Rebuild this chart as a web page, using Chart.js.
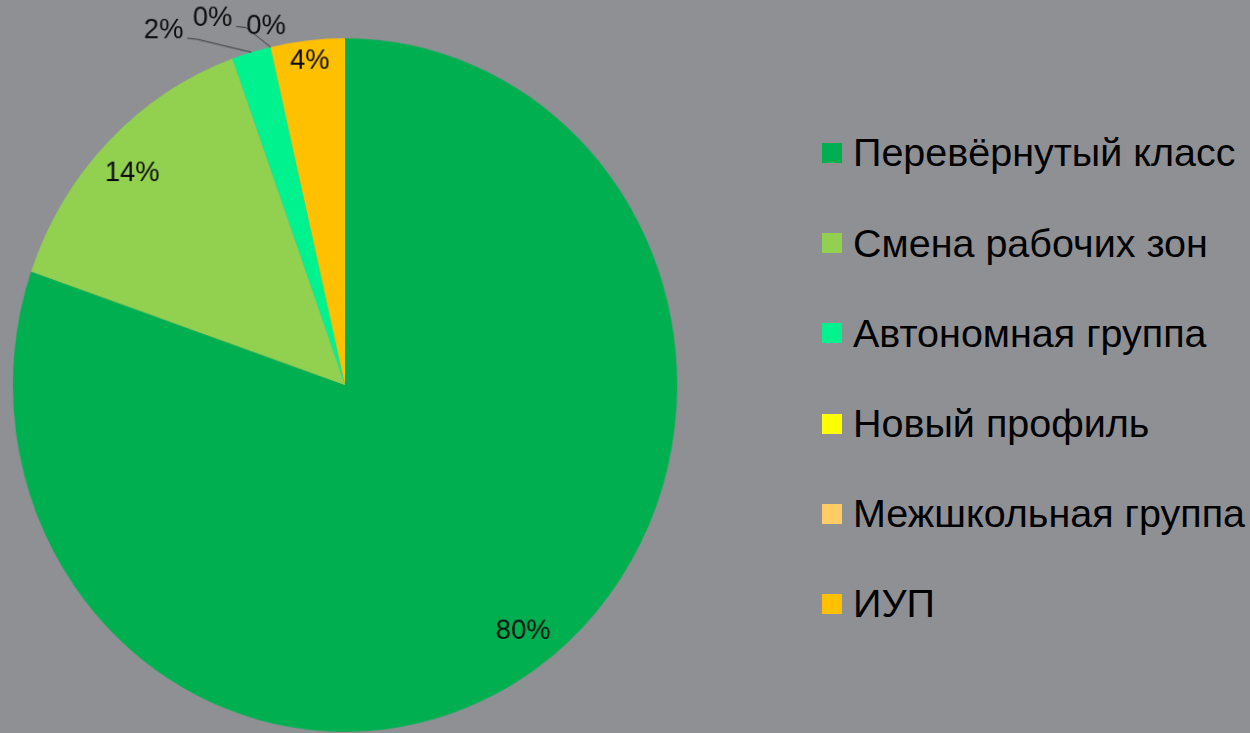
<!DOCTYPE html>
<html lang="ru">
<head>
<meta charset="utf-8">
<title>Формы организации обучения</title>
<script src="https://cdn.jsdelivr.net/npm/chart.js@4/dist/chart.umd.min.js"></script>
<style>
    html, body {
        margin: 0;
        padding: 0;
        background: #8f9094;
        width: 1250px;
        height: 733px;
        overflow: hidden;
        font-family: "Liberation Sans", Arial, sans-serif;
    }
    #pieWrap {
        position: absolute;
        left: 0;
        top: 0;
        width: 690px;
        height: 733px;
        /* the reference pie is a touch taller than it is wide */
        transform-origin: 345px 385px;
        transform: scale(0.977, 1.02);
    }
    #legend {
        position: absolute;
        left: 822px;
        top: 108px;
        margin: 0;
        padding: 0;
        list-style: none;
    }
    #legend li {
        height: 90.2px;
        display: flex;
        align-items: center;
        font-size: 39.5px;
        line-height: 1;
        color: #000;
        white-space: nowrap;
    }
    #legend .box {
        display: inline-block;
        width: 20px;
        height: 20px;
        margin-right: 11px;
        flex: none;
    }
</style>
</head>
<body>
<div id="pieWrap"><canvas id="formsChart"></canvas></div>
<ul id="legend"></ul>

<script>
// Data (shares, percent)
const categories = ['Перевёрнутый класс', 'Смена рабочих зон', 'Автономная группа', 'Новый профиль', 'Межшкольная группа', 'ИУП'];
const shares = [80.3, 14.2, 1.9, 0, 0, 3.6];
const sliceColors = ['#00b050', '#92d050', '#00f28f', '#ffff00', '#ffcc66', '#ffc000'];

// Label placement (radius factor, angle nudge in degrees, leader line)
const labelRadius = [0.89, 0.885, 1.16, 1.13, 1.06, 0.94];
const labelNudge = [-1.6, -1.0, -11.7, -7.7, 0, 0];
const labelLeader = [false, false, true, true, false, false];

// Percent labels drawn around / inside the slices
const percentLabels = {
    id: 'percentLabels',
    afterDatasetsDraw(chart) {
        const ctx = chart.ctx;
        const meta = chart.getDatasetMeta(0);
        const data = chart.data.datasets[0].data;
        const total = data.reduce((a, b) => a + b, 0);
        ctx.save();
        ctx.font = '28px "Liberation Sans", Arial, sans-serif';
        ctx.textAlign = 'center';
        ctx.textBaseline = 'middle';
        meta.data.forEach((arc, i) => {
            const p = arc.getProps(['x', 'y', 'startAngle', 'endAngle', 'outerRadius'], true);
            const mid = (p.startAngle + p.endAngle) / 2;
            const ang = mid + labelNudge[i] * Math.PI / 180;
            const lx = p.x + Math.cos(ang) * p.outerRadius * labelRadius[i];
            const ly = p.y + Math.sin(ang) * p.outerRadius * labelRadius[i];
            const text = Math.round(data[i] / total * 100) + '%';

            if (labelLeader[i]) {
                const w = ctx.measureText(text).width;
                const ex = p.x + Math.cos(mid) * p.outerRadius;
                const ey = p.y + Math.sin(mid) * p.outerRadius;
                ctx.strokeStyle = '#3c3c3c';
                ctx.lineWidth = 1;
                ctx.beginPath();
                ctx.moveTo(lx + w / 2 + 4, ly + 8);
                ctx.lineTo(lx + w / 2 + 14, ly + 9);
                ctx.lineTo(ex, ey);
                ctx.stroke();
            }
            ctx.fillStyle = '#0d0d0d';
            ctx.fillText(text, lx, ly);
        });
        ctx.restore();
    }
};

function createFormsChart() {
    const ctx = document.getElementById('formsChart');
    if (ctx) {
        new Chart(ctx, {
            type: 'pie',
            data: {
                labels: categories,
                datasets: [{
                    data: shares,
                    backgroundColor: sliceColors,
                    borderWidth: 0
                }]
            },
            options: {
                responsive: true,
                maintainAspectRatio: false,
                animation: false,
                layout: {
                    padding: { top: 45, bottom: 8, left: 5, right: 5 }
                },
                plugins: {
                    legend: { display: false },
                    tooltip: { enabled: false }
                }
            },
            plugins: [percentLabels]
        });
    }
}

function buildLegend() {
    const list = document.getElementById('legend');
    categories.forEach((name, i) => {
        const li = document.createElement('li');
        const box = document.createElement('span');
        box.className = 'box';
        box.style.background = sliceColors[i];
        const label = document.createElement('span');
        label.textContent = name;
        li.appendChild(box);
        li.appendChild(label);
        list.appendChild(li);
    });
}

buildLegend();
createFormsChart();
</script>
</body>
</html>
